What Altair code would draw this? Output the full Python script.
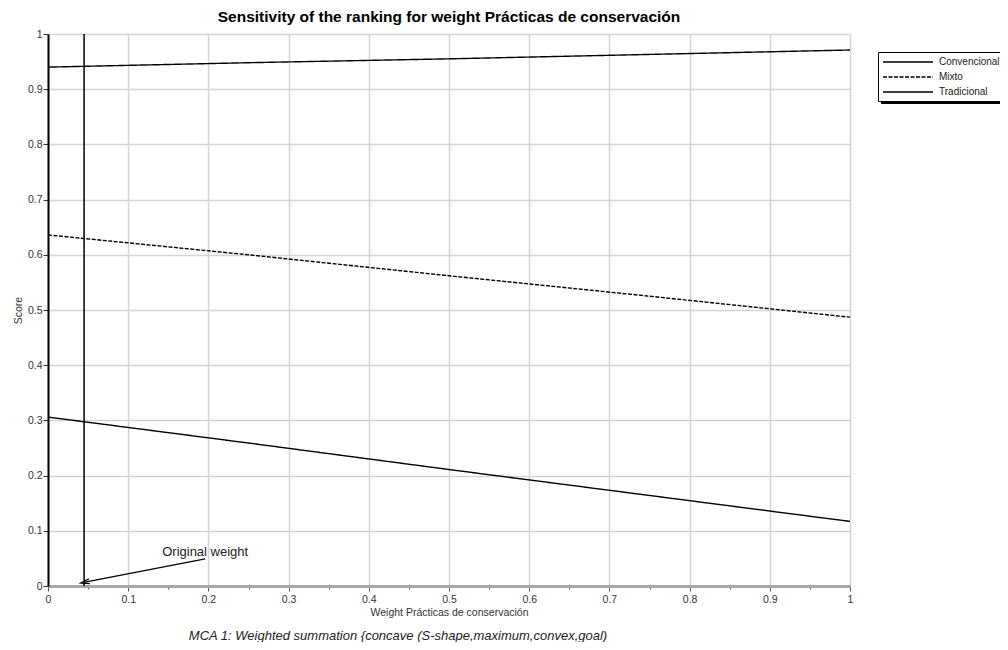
import altair as alt
import pandas as pd

# ---- data ----
weights = [0.0, 0.25, 0.5, 0.75, 1.0]
convencional = [0.940, 0.948, 0.955, 0.963, 0.971]
mixto = [0.636, 0.600, 0.562, 0.525, 0.487]
tradicional = [0.306, 0.259, 0.211, 0.164, 0.117]
series_names = ["Convencional", "Mixto", "Tradicional"]

original_weight = [0.045]
arrow_x = [0.196, 0.046]
arrow_y = [0.049, 0.007]
label_x = [0.196]
label_y = [0.062]
label_text = ["Original weight"]

title = "Sensitivity of the ranking for weight Prácticas de conservación"
x_title = "Weight Prácticas de conservación"
y_title = "Score"
subtitle = "MCA  1: Weighted summation {concave (S-shape,maximum,convex,goal)"

rows = []
for name, vals in zip(series_names, [convencional, mixto, tradicional]):
    for w, v in zip(weights, vals):
        rows.append({"weight": w, "score": v, "series": name})
df = pd.DataFrame(rows)

FONT = "Liberation Sans"
W, H = 802, 552

major_test = "abs(datum.value*10 - round(datum.value*10)) < 0.001"
minor_vals = [round(i * 0.025, 3) for i in range(41)]

x_scale = alt.Scale(domain=[0, 1], nice=False, zero=False)
y_scale = alt.Scale(domain=[0, 1], nice=False, zero=False)

x_axis = alt.Axis(
    title=x_title, values=minor_vals,
    labelExpr=f"{major_test} ? format(datum.value, '.1~f') : ''",
    tickSize={"condition": {"test": major_test, "value": 5}, "value": 3},
    gridOpacity={"condition": {"test": major_test, "value": 1}, "value": 0},
    gridColor="#d4d4d4", gridWidth=1.5,
    domainColor="#a8a8a8", domainWidth=3,
    tickColor="#555555", tickWidth=1,
    labelFont=FONT, labelFontSize=10.5, labelColor="#333333", labelPadding=3,
    labelFlush=False, labelOverlap=False,
    titleFont=FONT, titleFontSize=10.5, titleFontWeight="normal", titleColor="#333333",
    titlePadding=3,
)
y_axis = alt.Axis(
    title=y_title, values=minor_vals,
    labelExpr=f"{major_test} ? format(datum.value, '.1~f') : ''",
    tickSize={"condition": {"test": major_test, "value": 5}, "value": 3},
    gridOpacity={"condition": {"test": major_test, "value": 1}, "value": 0},
    gridColor="#d4d4d4", gridWidth=1.5,
    domainColor="#000000", domainWidth=2,
    tickColor="#333333", tickWidth=1,
    labelFont=FONT, labelFontSize=10.5, labelColor="#333333", labelPadding=1,
    labelFlush=False, labelOverlap=False,
    titleFont=FONT, titleFontSize=10.5, titleFontWeight="normal", titleColor="#333333",
    titlePadding=4,
)

lines = alt.Chart(df).mark_line(strokeWidth=1.4, color="black").encode(
    x=alt.X("weight:Q", scale=x_scale, axis=x_axis),
    y=alt.Y("score:Q", scale=y_scale, axis=y_axis),
    strokeDash=alt.StrokeDash(
        "series:N",
        scale=alt.Scale(domain=series_names, range=[[1, 0], [4, 1.5], [1, 0]]),
        legend=alt.Legend(
            orient="none", legendX=830, legendY=18, title=None,
            symbolType="M -5 0 L 5 0", symbolSize=100, symbolStrokeWidth=1.3,
            symbolStrokeColor="black", symbolOffset=20,
            labelFont=FONT, labelFontSize=10, labelColor="#222222", labelOffset=25,
            rowPadding=4, padding=4, strokeColor="black", fillColor="white",
            cornerRadius=0,
        ),
    ),
    detail="series:N",
)

rule_df = pd.DataFrame({"w": original_weight})
vline = alt.Chart(rule_df).mark_rule(color="black", strokeWidth=1.5).encode(x="w:Q")

arrow_df = pd.DataFrame({"ax": arrow_x, "ay": arrow_y, "o": [0, 1]})
arrow_line = alt.Chart(arrow_df).mark_line(color="black", strokeWidth=1.2).encode(
    x="ax:Q", y="ay:Q", order="o:Q"
)
head_df = pd.DataFrame({"ax": arrow_x[1:], "ay": arrow_y[1:]})
arrow_head = alt.Chart(head_df).mark_point(
    shape="M 1 -0.55 L -1 0 L 1 0.55", filled=False, color="black",
    strokeWidth=1.2, size=80, angle=349, opacity=1,
).encode(x="ax:Q", y="ay:Q")

lbl_df = pd.DataFrame({"lx": label_x, "ly": label_y, "t": label_text})
label = alt.Chart(lbl_df).mark_text(
    font=FONT, fontSize=13, color="#222222", align="center", baseline="middle"
).encode(x="lx:Q", y="ly:Q", text="t:N")

sub_df = pd.DataFrame({"t": [subtitle]})
sub = alt.Chart(sub_df).mark_text(
    font=FONT, fontSize=13, fontStyle="italic", color="#222222",
    align="center", baseline="middle",
).encode(x=alt.value(350), y=alt.value(602), text="t:N")

shadow = alt.Chart(sub_df).mark_rect(color="black").encode(
    x=alt.value(833), x2=alt.value(962), y=alt.value(64), y2=alt.value(70)
)

chart = alt.layer(shadow, lines, vline, arrow_line, arrow_head, label, sub).properties(
    width=W, height=H,
    title=alt.Title(title, font=FONT, fontSize=15.5, fontWeight="bold", color="black",
                    anchor="middle", offset=4),
    autosize=alt.AutoSizeParams(type="none"),
    padding={"left": 40, "top": 26, "right": 150, "bottom": 56},
).configure_view(stroke="#b0b0b0", strokeWidth=3).configure(background="white")

chart.save("out.html", embed_options={"renderer": "svg", "actions": False})
